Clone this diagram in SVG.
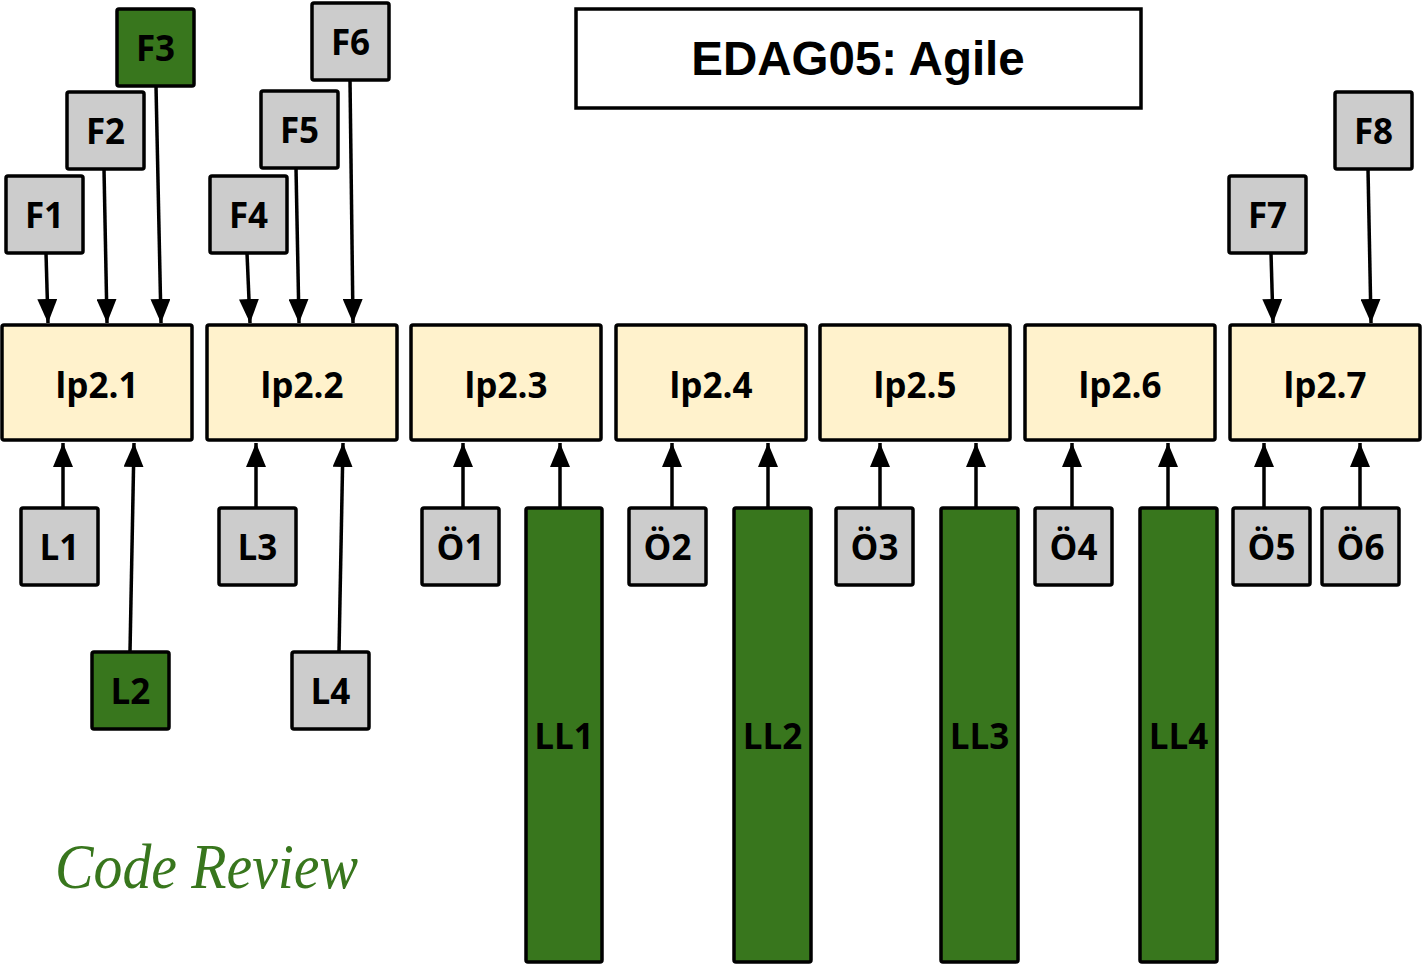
<svg xmlns="http://www.w3.org/2000/svg" width="1422" height="964" viewBox="0 0 1422 964">
<style>
.box{stroke:#000;stroke-width:3.5}
.gray{fill:#cccccc}
.cream{fill:#fff2cc}
.green{fill:#38761d}
.lbl{font-family:"Open Sans","Noto Sans","DejaVu Sans",sans-serif;font-weight:bold;font-size:35px;fill:#000;text-anchor:middle}
.conn line{stroke:#000;stroke-width:3.5;marker-end:url(#ah)}
.title{font-family:"Liberation Sans",Arial,sans-serif;font-weight:bold;font-size:47.5px;text-anchor:middle;fill:#000}
.cr{font-family:"Liberation Serif","DejaVu Serif",serif;font-style:italic;font-size:64px;fill:#38761d}
</style>
<defs>
<marker id="ah" viewBox="0 0 24 20" refX="24" refY="10" markerWidth="24" markerHeight="20" markerUnits="userSpaceOnUse" orient="auto">
<path d="M0,0 L24,10 L0,20 z" fill="#000"/>
</marker>
</defs>
<rect width="1422" height="964" fill="#fff"/>

<g id="title"><rect x="576" y="9" width="565" height="99" fill="#fff" class="box"/><text x="858" y="75" class="title">EDAG05: Agile</text></g>

<g id="lp2.1"><rect x="2" y="325" width="190" height="115" rx="2" class="box cream"/><text x="97" y="398" class="lbl">lp2.1</text></g>
<g id="lp2.2"><rect x="207" y="325" width="190" height="115" rx="2" class="box cream"/><text x="302" y="398" class="lbl">lp2.2</text></g>
<g id="lp2.3"><rect x="411" y="325" width="190" height="115" rx="2" class="box cream"/><text x="506" y="398" class="lbl">lp2.3</text></g>
<g id="lp2.4"><rect x="616" y="325" width="190" height="115" rx="2" class="box cream"/><text x="711" y="398" class="lbl">lp2.4</text></g>
<g id="lp2.5"><rect x="820" y="325" width="190" height="115" rx="2" class="box cream"/><text x="915" y="398" class="lbl">lp2.5</text></g>
<g id="lp2.6"><rect x="1025" y="325" width="190" height="115" rx="2" class="box cream"/><text x="1120" y="398" class="lbl">lp2.6</text></g>
<g id="lp2.7"><rect x="1230" y="325" width="190" height="115" rx="2" class="box cream"/><text x="1325" y="398" class="lbl">lp2.7</text></g>

<g id="F1"><rect x="6" y="176" width="77" height="77" rx="2" class="box gray"/><text x="44.5" y="228" class="lbl">F1</text></g>
<g id="F2"><rect x="67" y="92" width="77" height="77" rx="2" class="box gray"/><text x="105.5" y="144" class="lbl">F2</text></g>
<g id="F3"><rect x="117" y="9" width="77" height="77" rx="2" class="box green"/><text x="155.5" y="61" class="lbl">F3</text></g>
<g id="F4"><rect x="210" y="176" width="77" height="77" rx="2" class="box gray"/><text x="248.5" y="228" class="lbl">F4</text></g>
<g id="F5"><rect x="261" y="91" width="77" height="77" rx="2" class="box gray"/><text x="299.5" y="143" class="lbl">F5</text></g>
<g id="F6"><rect x="312" y="3" width="77" height="77" rx="2" class="box gray"/><text x="350.5" y="55" class="lbl">F6</text></g>
<g id="F7"><rect x="1229" y="176" width="77" height="77" rx="2" class="box gray"/><text x="1267.5" y="228" class="lbl">F7</text></g>
<g id="F8"><rect x="1335" y="92" width="77" height="77" rx="2" class="box gray"/><text x="1373.5" y="144" class="lbl">F8</text></g>

<g id="L1"><rect x="21" y="508" width="77" height="77" rx="2" class="box gray"/><text x="59.5" y="560" class="lbl">L1</text></g>
<g id="L2"><rect x="92" y="652" width="77" height="77" rx="2" class="box green"/><text x="130.5" y="704" class="lbl">L2</text></g>
<g id="L3"><rect x="219" y="508" width="77" height="77" rx="2" class="box gray"/><text x="257.5" y="560" class="lbl">L3</text></g>
<g id="L4"><rect x="292" y="652" width="77" height="77" rx="2" class="box gray"/><text x="330.5" y="704" class="lbl">L4</text></g>

<g id="Ö1"><rect x="422" y="508" width="77" height="77" rx="2" class="box gray"/><text x="460.5" y="560" class="lbl">Ö1</text></g>
<g id="Ö2"><rect x="629" y="508" width="77" height="77" rx="2" class="box gray"/><text x="667.5" y="560" class="lbl">Ö2</text></g>
<g id="Ö3"><rect x="836" y="508" width="77" height="77" rx="2" class="box gray"/><text x="874.5" y="560" class="lbl">Ö3</text></g>
<g id="Ö4"><rect x="1035" y="508" width="77" height="77" rx="2" class="box gray"/><text x="1073.5" y="560" class="lbl">Ö4</text></g>
<g id="Ö5"><rect x="1233" y="508" width="77" height="77" rx="2" class="box gray"/><text x="1271.5" y="560" class="lbl">Ö5</text></g>
<g id="Ö6"><rect x="1322" y="508" width="77" height="77" rx="2" class="box gray"/><text x="1360.5" y="560" class="lbl">Ö6</text></g>

<g id="LL1"><rect x="526" y="508" width="76" height="454" rx="2" class="box green"/><text x="564" y="749" class="lbl">LL1</text></g>
<g id="LL2"><rect x="734" y="508" width="77" height="454" rx="2" class="box green"/><text x="772.5" y="749" class="lbl">LL2</text></g>
<g id="LL3"><rect x="941" y="508" width="77" height="454" rx="2" class="box green"/><text x="979.5" y="749" class="lbl">LL3</text></g>
<g id="LL4"><rect x="1140" y="508" width="77" height="454" rx="2" class="box green"/><text x="1178.5" y="749" class="lbl">LL4</text></g>

<g id="connectors" class="conn">
<line x1="46" y1="253" x2="48" y2="323"/>
<line x1="104" y1="169" x2="107" y2="323"/>
<line x1="156" y1="86" x2="161" y2="323"/>
<line x1="247" y1="253" x2="250" y2="323"/>
<line x1="296" y1="168" x2="299" y2="323"/>
<line x1="350" y1="80" x2="353" y2="323"/>
<line x1="1271" y1="253" x2="1273" y2="323"/>
<line x1="1368" y1="169" x2="1371" y2="323"/>
<line x1="63" y1="508" x2="63" y2="443"/>
<line x1="130" y1="652" x2="134" y2="443"/>
<line x1="256" y1="508" x2="256" y2="443"/>
<line x1="339" y1="652" x2="343" y2="443"/>
<line x1="463" y1="508" x2="463" y2="443"/>
<line x1="560" y1="508" x2="560" y2="443"/>
<line x1="672" y1="508" x2="672" y2="443"/>
<line x1="768" y1="508" x2="768" y2="443"/>
<line x1="880" y1="508" x2="880" y2="443"/>
<line x1="976" y1="508" x2="976" y2="443"/>
<line x1="1072" y1="508" x2="1072" y2="443"/>
<line x1="1168" y1="508" x2="1168" y2="443"/>
<line x1="1264" y1="508" x2="1264" y2="443"/>
<line x1="1360" y1="508" x2="1360" y2="443"/>
</g>

<text x="55" y="888" class="cr" textLength="303" lengthAdjust="spacingAndGlyphs">Code Review</text>
</svg>
